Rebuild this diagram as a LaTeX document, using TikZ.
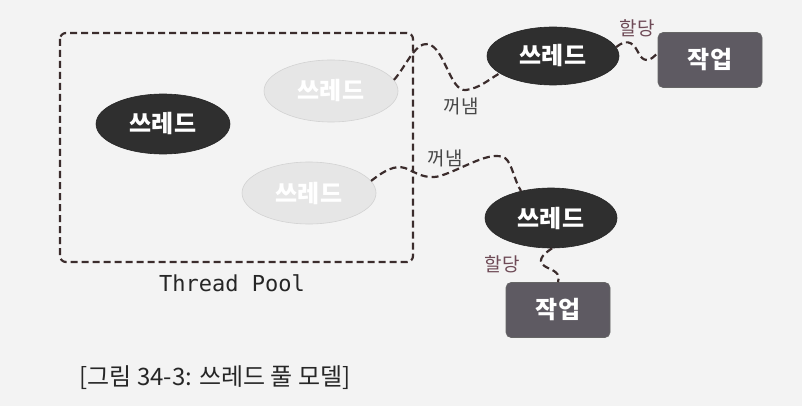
\documentclass[tikz,border=0pt]{standalone}
\usepackage{fontspec}
\setmainfont{Noto Sans CJK KR}
\newfontfamily\kr{Noto Sans CJK KR}
\newfontfamily\mono{DejaVu Sans Mono}
\usetikzlibrary{shapes.geometric}
\definecolor{bgc}{HTML}{F3F3F3}
\definecolor{darkfill}{HTML}{2F2F2F}
\definecolor{lightfill}{HTML}{E6E6E6}
\definecolor{lightedge}{HTML}{D2D2D2}
\definecolor{taskfill}{HTML}{5E5A62}
\definecolor{dashc}{HTML}{3B2C2C}
\definecolor{allocc}{HTML}{6E4A56}
\definecolor{takec}{HTML}{474747}
\tikzset{
  dline/.style={draw=dashc, line width=2.2pt, dash pattern=on 7pt off 4pt},
  darkthread/.style={ellipse, fill=darkfill, draw=black!85, line width=0.6pt, minimum width=134pt, minimum height=60pt, inner sep=0pt, text=white, font=\kr\bfseries\fontsize{24}{28}\selectfont},
  lightthread/.style={ellipse, fill=lightfill, draw=lightedge, line width=0.6pt, minimum width=134pt, minimum height=62pt, inner sep=0pt, text=white, font=\kr\bfseries\fontsize{24}{28}\selectfont},
  taskbox/.style={rectangle, rounded corners=5pt, fill=taskfill, draw=black!60, line width=0.6pt, minimum width=104pt, minimum height=55pt, inner sep=0pt, text=white, font=\kr\bfseries\fontsize{24}{28}\selectfont},
  alloclabel/.style={text=allocc, font=\kr\fontsize{19}{22}\selectfont, inner sep=0pt},
  takelabel/.style={text=takec, font=\kr\fontsize{19}{22}\selectfont, inner sep=0pt},
}
\begin{document}
\begin{tikzpicture}[x=1pt,y=-1pt]
\useasboundingbox (0,0) rectangle (802,406);
\fill[bgc] (0,0) rectangle (802,406);
% pool
\draw[dline, rounded corners=6pt] (60,33) rectangle (413,262);
\node[font=\mono\fontsize{22}{26}\selectfont, text=black!85] (poollabel) at (232,283) {Thread Pool};
% threads in pool
\node[darkthread] (d1) at (163,124) {쓰레드};
\node[lightthread] (lt) at (331,91) {쓰레드};
\node[lightthread] (lb) at (309,193) {쓰레드};
% taken threads
\node[darkthread, minimum width=132pt, minimum height=58pt] (tr) at (553,56) {쓰레드};
\node[darkthread, minimum width=132pt, minimum height=60pt] (br) at (551,218) {쓰레드};
% tasks
\node[taskbox] (tbox) at (710,60) {작업};
\node[taskbox] (bbox) at (558,310) {작업};
% connectors
\draw[dline] (lt.10) .. controls (405,68) and (415,42) .. (428,44)
  .. controls (445,48) and (450,92) .. (466,90)
  .. controls (480,88) and (488,80) .. (tr.198);
\draw[dline] (tr.8) .. controls (625,40) and (632,40) .. (638,52)
  .. controls (643,63) and (650,62) .. (tbox.172);
\draw[dline] (lb.11) .. controls (385,170) and (395,165) .. (405,168)
  .. controls (415,172) and (425,180) .. (440,176)
  .. controls (465,168) and (490,150) .. (505,158)
  .. controls (512,163) and (514,180) .. (br.138);
\draw[dline] (br.-88) .. controls (542,255) and (535,262) .. (548,268)
  .. controls (558,272) and (560,276) .. (bbox.north);
% labels
\node[alloclabel] (a1) at (637,28) {할당};
\node[takelabel] (k1) at (461,106) {꺼냄};
\node[takelabel] (k2) at (445,158) {꺼냄};
\node[alloclabel] (a2) at (502,264) {할당};
% caption
\node[font=\kr\fontsize{24}{28}\selectfont, text=black!85] (cap) at (215,378) {[그림 34-3: 쓰레드 풀 모델]};
\end{tikzpicture}
\end{document}
